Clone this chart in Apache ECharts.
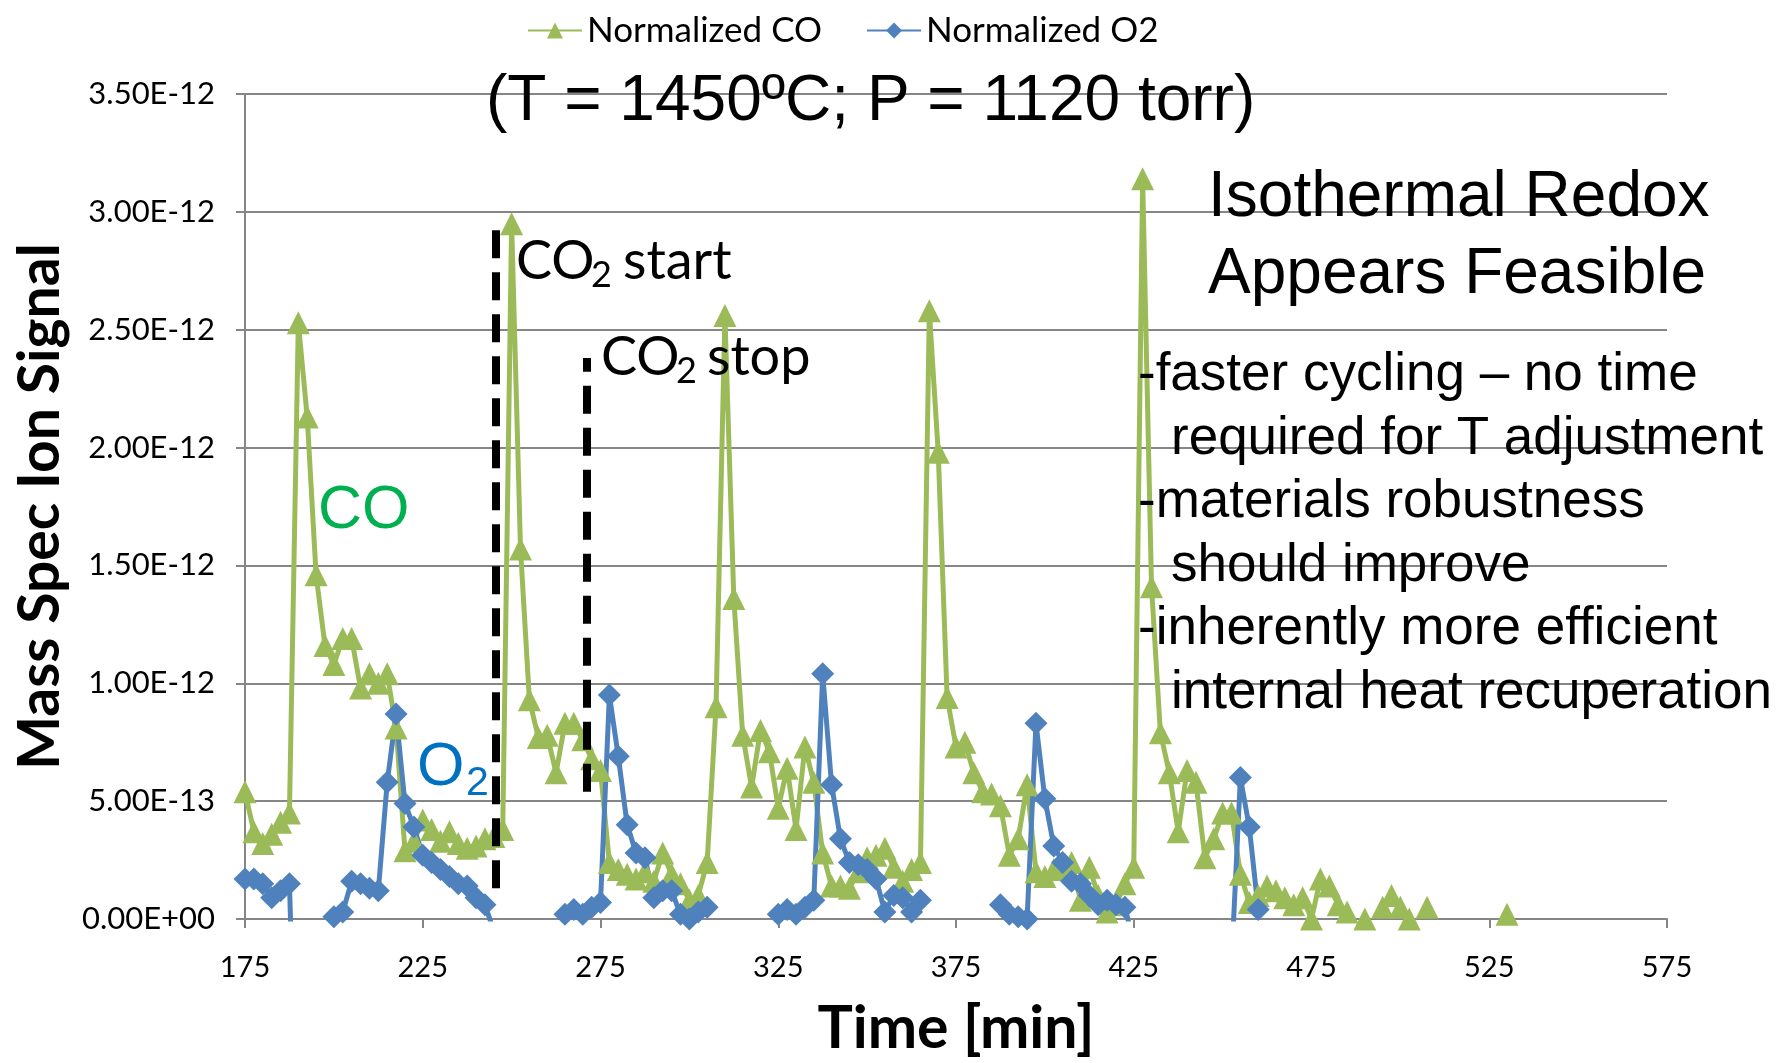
<!DOCTYPE html>
<html>
<head>
<meta charset="utf-8">
<title>Isothermal Redox</title>
<script src="https://cdn.jsdelivr.net/npm/echarts@6/dist/echarts.min.js"></script>
<style>
  html, body { margin: 0; padding: 0; background: #fff; }
  #main { width: 1779px; height: 1063px; }
</style>
</head>
<body>
<div id="main"></div>
<script>
// sample times [min]
var time = [
  175, 177.5, 180, 182.5, 185, 187.5, 190, 192.5, 195, 197.5,
  200, 202.5, 205, 207.5, 210, 212.5, 215, 217.5, 220, 222.5,
  225, 227.5, 230, 232.5, 235, 237.5, 240, 242.5, 245, 247.5,
  250, 252.5, 255, 257.5, 260, 262.5, 265, 267.5, 270, 272.5,
  275, 277.5, 280, 282.5, 285, 287.5, 290, 292.5, 295, 297.5,
  300, 302.5, 305, 307.5, 310, 312.5, 315, 317.5, 320, 322.5,
  325, 327.5, 330, 332.5, 335, 337.5, 340, 342.5, 345, 347.5,
  350, 352.5, 355, 357.5, 360, 362.5, 365, 367.5, 370, 372.5,
  375, 377.5, 380, 382.5, 385, 387.5, 390, 392.5, 395, 397.5,
  400, 402.5, 405, 407.5, 410, 412.5, 415, 417.5, 420, 422.5,
  425, 427.5, 430, 432.5, 435, 437.5, 440, 442.5, 445, 447.5,
  450, 452.5, 455, 457.5, 460, 462.5, 465, 467.5, 470, 472.5,
  475, 477.5, 480, 482.5, 485, 487.5, 490, 492.5, 495, 497.5,
  500, 502.5, 505, 507.5, 510, 512.5, 515, 517.5, 520, 522.5,
  525, 527.5, 530
];

// normalized signals, in units of 1E-12
var coSignal = [
  0.54, 0.37, 0.32, 0.36, 0.41, 0.45, 2.53, 2.13, 1.46, 1.16,
  1.08, 1.19, 1.19, 0.98, 1.04, 1.00, 1.04, 0.81, 0.29, 0.33,
  0.42, 0.38, 0.33, 0.37, 0.32, 0.30, 0.31, 0.34, 0.35, 0.38,
  2.95, 1.57, 0.93, 0.77, 0.78, 0.62, 0.83, 0.83, 0.76, 0.68,
  0.63, 0.24, 0.21, 0.19, 0.17, 0.20, 0.16, 0.28, 0.19, 0.15,
  0.08, 0.10, 0.24, 0.90, 2.56, 1.36, 0.78, 0.56, 0.80, 0.71,
  0.47, 0.64, 0.38, 0.73, 0.58, 0.28, 0.14, 0.14, 0.13, 0.20,
  0.26, 0.27, 0.30, 0.22, 0.16, 0.21, 0.24, 2.58, 1.98, 0.94,
  0.73, 0.75, 0.62, 0.54, 0.53, 0.48, 0.27, 0.34, 0.57, 0.20,
  0.18, 0.21, 0.22, 0.24, 0.08, 0.22, 0.10, 0.03, 0.06, 0.15,
  0.22, 3.14, 1.41, 0.79, 0.62, 0.37, 0.63, 0.58, 0.26, 0.34,
  0.45, 0.45, 0.19, 0.07, 0.10, 0.14, 0.12, 0.09, 0.06, 0.09,
  0.00, 0.17, 0.14, 0.06, 0.03, null, 0.00, null, 0.05, 0.10,
  0.05, 0.00, null, 0.05, null, null, null, null, null, null,
  null, null, 0.02
];

var o2Signal = [
  0.17, 0.17, 0.15, 0.09, 0.12, 0.15, -1.10, null, null, null,
  0.01, 0.03, 0.16, 0.15, 0.13, 0.12, 0.58, 0.87, 0.49, 0.39,
  0.27, 0.24, 0.21, 0.18, 0.15, 0.14, 0.09, 0.06, -0.05, null,
  null, null, null, null, null, null, 0.02, 0.04, 0.02, 0.05,
  0.07, 0.95, 0.69, 0.40, 0.28, 0.26, 0.09, 0.12, 0.12, 0.02,
  0.00, 0.03, 0.05, null, null, null, null, null, null, null,
  0.02, 0.04, 0.02, 0.05, 0.08, 1.04, 0.57, 0.34, 0.24, 0.23,
  0.21, 0.17, 0.03, 0.10, 0.09, 0.03, 0.08, null, null, null,
  null, null, null, null, null, 0.06, 0.02, 0.01, 0.00, 0.83,
  0.51, 0.31, 0.24, 0.16, 0.15, 0.10, 0.06, 0.08, 0.06, 0.05,
  -0.10, null, null, null, null, null, null, null, null, null,
  null, -0.19, 0.60, 0.39, 0.04, null, null, null, null, null,
  null, null, null, null, null, null, null, null, null, null,
  null, null, null, null, null, null, null, null, null, null,
  null, null, null
];

// CO2 start / stop dashed markers: time, bottom, top (1E-12)
var co2Times = [245.5, 271];
var co2Low = [0.13, 0.54];
var co2High = [2.95, 2.38];

var coData = time.map(function (t, i) { return [t, coSignal[i]]; });
var o2Data = time.map(function (t, i) { return [t, o2Signal[i]]; });

function sci(v) {
    var parts = (v * 1e-12).toExponential(2).toUpperCase().split('E');
    var e = parseInt(parts[1], 10);
    var a = Math.abs(e);
    return parts[0] + 'E' + (e < 0 ? '-' : '+') + (a < 10 ? '0' + a : a);
}

var arial = '"Liberation Sans", Arial, sans-serif';
var calibri = 'Lato, "Open Sans", sans-serif';
var axisGray = '#868686';

// one plain text block placed at left/top
function note(text, left, top, font, size, color, lineHeight) {
    return {
        text: text, left: left, top: top, padding: 0,
        textStyle: { fontFamily: font, fontSize: size, fontWeight: 'normal', lineHeight: lineHeight || size, color: color }
    };
}

var myChart = echarts.init(document.getElementById('main'));

var option = {
    animation: false,
    backgroundColor: '#fff',
    grid: { left: 245, right: 112, top: 94, bottom: 141, containLabel: false },
    legend: {
        left: 522,
        top: 8,
        itemWidth: 54,
        itemHeight: 20,
        itemGap: 44,
        textStyle: { fontFamily: calibri, fontSize: 35, color: '#000' },
        data: ['Normalized CO', 'Normalized O2']
    },
    title: [
        note('(T = 1450\u00baC; P = 1120 torr)', 486, 70, arial, 64, '#000'),
        note('Isothermal Redox\nAppears Feasible', 1208, 160, arial, 64, '#000', 77),
        {
            text: '-faster cycling \u2013 no time\n{i|required for T adjustment}\n-materials robustness\n{i|should improve}\n-inherently more efficient\n{i|internal heat recuperation}',
            left: 1138, top: 344, padding: 0,
            textStyle: {
                fontFamily: arial, fontSize: 53, fontWeight: 'normal', lineHeight: 63.5, color: '#000',
                rich: {
                    i: { fontFamily: arial, fontSize: 53, fontWeight: 'normal', lineHeight: 63.5, color: '#000', padding: [0, 0, 0, 33] }
                }
            }
        },
        note('CO', 318, 481, arial, 61, '#00B050', 60),
        note('O', 417, 738, arial, 61, '#0070C0', 60),
        note('2', 466, 763, arial, 41, '#0070C0'),
        note('CO', 516, 235, calibri, 54, '#000'),
        note('2', 591, 257, calibri, 36, '#000'),
        note('start', 623, 235, calibri, 54, '#000'),
        note('CO', 601, 331, calibri, 54, '#000'),
        note('2', 676, 353, calibri, 36, '#000'),
        note('stop', 707, 331, calibri, 54, '#000')
    ],
    xAxis: {
        type: 'value',
        min: 175,
        max: 575,
        interval: 50,
        name: 'Time [min]',
        nameLocation: 'middle',
        nameGap: 80,
        nameTextStyle: { fontFamily: calibri, fontSize: 59, fontWeight: 'bold', color: '#000' },
        axisLine: { show: true, onZero: false, lineStyle: { color: axisGray, width: 2 } },
        axisTick: { show: true, length: 9, lineStyle: { color: axisGray, width: 2 } },
        axisLabel: { margin: 34, fontFamily: calibri, fontSize: 29, color: '#000' },
        splitLine: { show: false }
    },
    yAxis: {
        type: 'value',
        min: 0,
        max: 3.5,
        interval: 0.5,
        name: 'Mass Spec Ion Signal',
        nameLocation: 'middle',
        nameRotate: 90,
        nameGap: 176,
        nameTextStyle: { fontFamily: calibri, fontSize: 57, fontWeight: 'bold', color: '#000' },
        axisLine: { show: true, lineStyle: { color: axisGray, width: 2 } },
        axisTick: { show: true, length: 9, lineStyle: { color: axisGray, width: 2 } },
        axisLabel: { margin: 30, fontFamily: calibri, fontSize: 31, color: '#000', formatter: sci },
        splitLine: { show: true, lineStyle: { color: axisGray, width: 2 } }
    },
    series: [
        {
            name: 'Normalized CO',
            type: 'line',
            data: coData,
            connectNulls: false,
            showAllSymbol: true,
            symbol: 'triangle',
            symbolSize: 23,
            itemStyle: { color: '#9BBB59' },
            lineStyle: { color: '#9BBB59', width: 5 },
            emphasis: { disabled: true },
            markLine: {
                silent: true,
                symbol: ['none', 'none'],
                label: { show: false },
                emphasis: { disabled: true },
                lineStyle: { color: '#000', width: 8, type: [28, 14] },
                data: co2Times.map(function (t, i) {
                    return [{ coord: [t, co2Low[i]] }, { coord: [t, co2High[i]] }];
                })
            }
        },
        {
            name: 'Normalized O2',
            type: 'line',
            data: o2Data,
            connectNulls: false,
            showAllSymbol: true,
            symbol: 'diamond',
            symbolSize: 23,
            itemStyle: { color: '#4F81BD' },
            lineStyle: { color: '#4F81BD', width: 5 },
            emphasis: { disabled: true }
        }
    ]
};

myChart.setOption(option);
</script>
</body>
</html>
